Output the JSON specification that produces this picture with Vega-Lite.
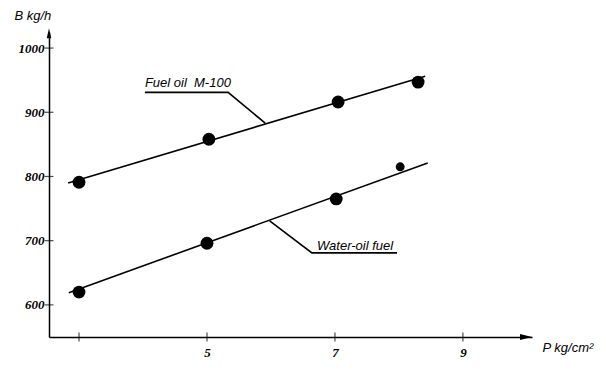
{
  "$schema": "https://vega.github.io/schema/vega-lite/v6.json",
  "width": 483,
  "height": 305,
  "autosize": {"type": "none"},
  "padding": {"left": 49, "top": 32, "right": 74, "bottom": 47},
  "background": "white",
  "config": {"view": {"stroke": null}},
  "datasets": {
    "curves": [
      {"series": "fuel", "i": 1, "p": 2.83, "b": 790},
      {"series": "fuel", "i": 2, "p": 8.41, "b": 956},
      {"series": "water", "i": 1, "p": 2.84, "b": 619},
      {"series": "water", "i": 2, "p": 8.45, "b": 821},
      {"series": "leaderFuel", "i": 1, "p": 4.03, "b": 931},
      {"series": "leaderFuel", "i": 2, "p": 5.33, "b": 931},
      {"series": "leaderFuel", "i": 3, "p": 5.91, "b": 883},
      {"series": "leaderWater", "i": 1, "p": 5.98, "b": 731},
      {"series": "leaderWater", "i": 2, "p": 6.64, "b": 681},
      {"series": "leaderWater", "i": 3, "p": 7.97, "b": 681}
    ],
    "points": [
      {"series": "fuel", "p": 3.0, "b": 791},
      {"series": "fuel", "p": 5.03, "b": 858},
      {"series": "fuel", "p": 7.05, "b": 916},
      {"series": "fuel", "p": 8.3, "b": 947},
      {"series": "water", "p": 3.0, "b": 620},
      {"series": "water", "p": 5.0, "b": 696},
      {"series": "water", "p": 7.02, "b": 765}
    ],
    "extra": [{"series": "water", "p": 8.02, "b": 815}],
    "labels": [
      {"label": "Fuel oil\u00a0\u00a0M-100", "p": 4.03, "b": 939},
      {"label": "Water-oil fuel", "p": 6.72, "b": 686}
    ],
    "xticks": [{"p": 3, "b": 550}, {"p": 5, "b": 550}, {"p": 7, "b": 550}, {"p": 9, "b": 550}],
    "yticks": [{"p": 2.531, "b": 600}, {"p": 2.531, "b": 700}, {"p": 2.531, "b": 800}, {"p": 2.531, "b": 900}, {"p": 2.531, "b": 1000}],
    "arrowUp": [{"p": 2.531, "b": 1031}],
    "arrowRight": [{"p": 10.08, "b": 550}]
  },
  "encoding": {
    "x": {
      "field": "p", "type": "quantitative",
      "scale": {"domain": [2.531, 10.08], "nice": false, "zero": false},
      "axis": {
        "values": [3, 5, 7, 9],
        "format": "d",
        "labelExpr": "datum.value == 3 ? '' : datum.label",
        "ticks": false, "grid": false,
        "domainColor": "black", "domainWidth": 1.5,
        "labelFont": "Liberation Serif, Times New Roman, serif", "labelFontStyle": "italic", "labelFontWeight": "bold",
        "labelFontSize": 13, "labelColor": "black", "labelPadding": 9,
        "title": "P kg/cm²", "titleFont": "Liberation Sans", "titleFontStyle": "italic",
        "titleFontWeight": "normal", "titleFontSize": 13, "titleColor": "black",
        "titleX": 493, "titleY": 10, "titleAlign": "left", "titleBaseline": "middle"
      }
    },
    "y": {
      "field": "b", "type": "quantitative",
      "scale": {"domain": [550, 1025], "nice": false, "zero": false},
      "axis": {
        "values": [600, 700, 800, 900, 1000],
        "format": "d",
        "ticks": false, "grid": false,
        "domainColor": "black", "domainWidth": 1.5,
        "labelFont": "Liberation Serif, Times New Roman, serif", "labelFontStyle": "italic", "labelFontWeight": "bold",
        "labelFontSize": 13, "labelColor": "black", "labelPadding": 5,
        "title": "B kg/h", "titleFont": "Liberation Sans", "titleFontStyle": "italic",
        "titleFontWeight": "normal", "titleFontSize": 13, "titleColor": "black",
        "titleAngle": 0, "titleX": -35, "titleY": -17, "titleAlign": "left", "titleBaseline": "middle"
      }
    }
  },
  "layer": [
    {
      "data": {"name": "curves"},
      "mark": {"type": "line", "color": "black", "strokeWidth": 1.6, "clip": false},
      "encoding": {"detail": {"field": "series"}, "order": {"field": "i"}}
    },
    {
      "data": {"name": "points"},
      "mark": {"type": "point", "filled": true, "color": "black", "size": 165, "opacity": 1, "clip": false}
    },
    {
      "data": {"name": "extra"},
      "mark": {"type": "point", "filled": true, "color": "black", "size": 80, "opacity": 1, "clip": false}
    },
    {
      "data": {"name": "labels"},
      "mark": {"type": "text", "align": "left", "baseline": "alphabetic", "font": "Liberation Sans", "fontStyle": "italic", "fontSize": 13, "color": "black", "clip": false},
      "encoding": {"text": {"field": "label"}}
    },
    {
      "data": {"name": "xticks"},
      "mark": {"type": "tick", "orient": "vertical", "color": "black", "size": 9, "thickness": 1.2, "clip": false}
    },
    {
      "data": {"name": "yticks"},
      "mark": {"type": "tick", "orient": "horizontal", "color": "black", "size": 9, "thickness": 1.2, "clip": false}
    },
    {
      "data": {"name": "arrowUp"},
      "mark": {"type": "point", "shape": "M0,0L-0.45,2L0.45,2Z", "filled": true, "color": "black", "size": 100, "opacity": 1, "clip": false}
    },
    {
      "data": {"name": "arrowRight"},
      "mark": {"type": "point", "shape": "M0,0L-2.4,-0.6L-2.4,0.6Z", "filled": true, "color": "black", "size": 100, "opacity": 1, "clip": false}
    }
  ]
}
